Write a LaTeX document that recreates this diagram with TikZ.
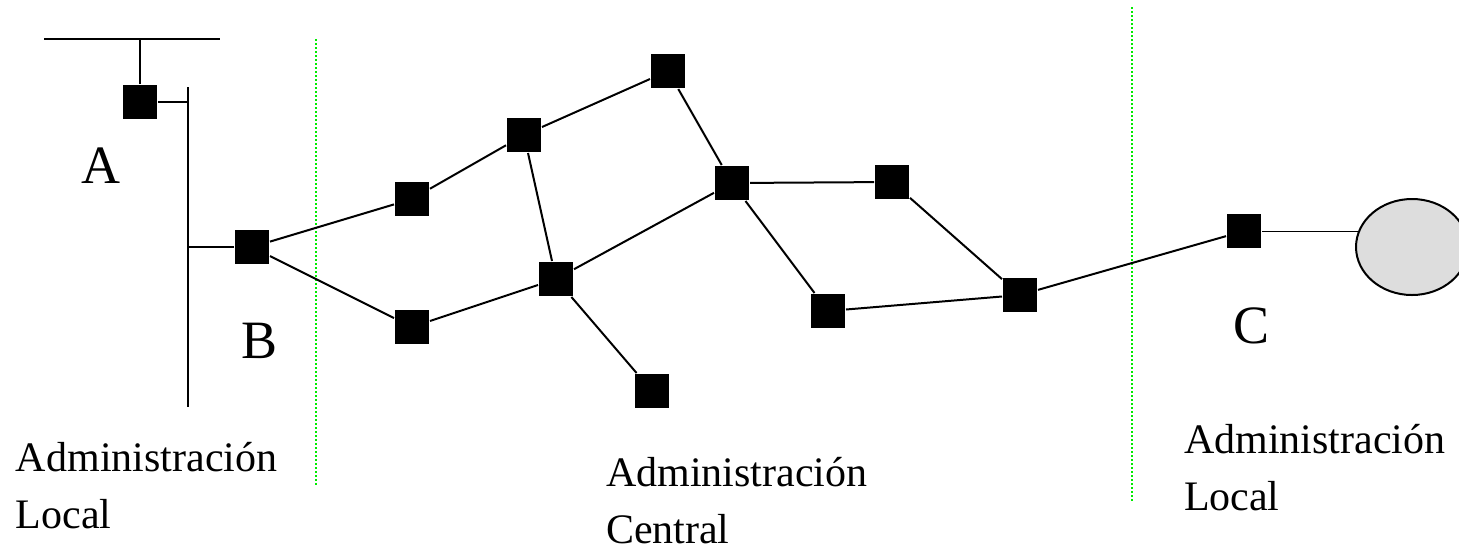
\documentclass[tikz,border=0pt]{standalone}
\usepackage{fontspec}
\setmainfont{Liberation Serif}
\usetikzlibrary{shapes.geometric,backgrounds}
\definecolor{verde}{RGB}{0,235,0}
\definecolor{grigio}{RGB}{221,221,221}
\begin{document}
\begin{tikzpicture}[x=0.5pt,y=-0.5pt,line width=1pt,
    nodo/.style={rectangle,fill=black,minimum size=17pt,inner sep=0pt},
    lettera/.style={anchor=base west,inner sep=0pt,font=\fontsize{27}{32}\selectfont},
    testo/.style={anchor=base west,inner sep=0pt,align=left,font=\fontsize{21}{28.5}\selectfont},
    confine/.style={verde,line width=1pt,dash pattern=on 1pt off 1pt}]
    \useasboundingbox (0,0) rectangle (1459,548);
        % Confini
        \draw [confine] (316,39) -- (316,485);
        \draw [confine] (1132,7) -- (1132,502);
        % Rete locale A
        \coordinate (bar1) at (44,39);
        \coordinate (bar2) at (220,39);
        \coordinate (bus1) at (188,87);
        \coordinate (bus2) at (188,407);
        \draw (bar1) -- (bar2);
        \draw (bus1) -- (bus2);
        \node [nodo] (a) at (140,102) {};
        \node [nodo] (b) at (252,247) {};
        \draw (a) -- (a |- bar1);
        \draw (a) -- (a -| bus1);
        \draw (b) -- (b -| bus1);
        % Nodi
        \node [nodo] (n1) at (412,199) {};
        \node [nodo] (n2) at (524,135) {};
        \node [nodo] (n3) at (668,71) {};
        \node [nodo] (n4) at (732,183) {};
        \node [nodo] (n5) at (892,182) {};
        \node [nodo] (n6) at (556,279) {};
        \node [nodo] (n7) at (412,327) {};
        \node [nodo] (n8) at (652,391) {};
        \node [nodo] (n9) at (828,311) {};
        \node [nodo] (n10) at (1020,295) {};
        \node [nodo] (c) at (1244,231) {};
        \node [ellipse,draw,fill=grigio,minimum width=56pt,minimum height=48pt,inner sep=0pt] (host) at (1412,247) {};
        % Collegamenti
        \draw (b) -- (n1);
        \draw (b) -- (n7);
        \draw (n1) -- (n2);
        \draw (n2) -- (n3);
        \draw (n2) -- (n6);
        \draw (n3) -- (n4);
        \draw (n4) -- (n5);
        \draw (n4) -- (n6);
        \draw (n4) -- (n9);
        \draw (n6) -- (n7);
        \draw (n6) -- (n8);
        \draw (n5) -- (n10);
        \draw (n9) -- (n10);
        \draw (n10) -- (c);
        \begin{scope}[on background layer]
            \draw (c) -- (host.center |- c);
        \end{scope}
        % Etichette
        \node [lettera] (la) at (80,183) {A};
        \node [lettera] (lb) at (240,358) {B};
        \node [lettera] (lc) at (1232,343) {C};
        \node [testo] (t1) at (15,528) {Administración\\Local};
        \node [testo] (t2) at (605,543) {Administración\\Central};
        \node [testo] (t3) at (1183,510) {Administración\\Local};
    \end{tikzpicture}
\end{document}
